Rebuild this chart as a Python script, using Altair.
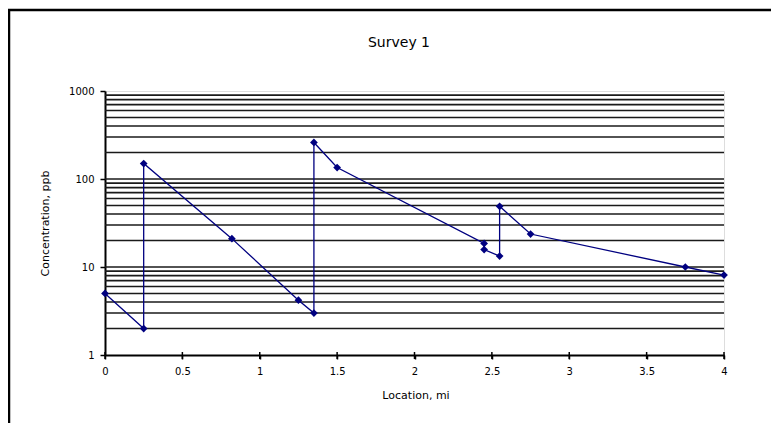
import altair as alt
import pandas as pd

# Survey data (location in miles, concentration in ppb), in drawing order
location_mi = [0, 0.25, 0.25, 0.82, 1.25, 1.35, 1.35, 1.5, 2.45, 2.45, 2.55, 2.55, 2.75, 3.75, 4.0]
concentration_ppb = [5, 2, 150, 21, 4.2, 3, 260, 135, 18.5, 15.8, 13.3, 49, 23.7, 10, 8.1]

x_ticks = [0, 0.5, 1, 1.5, 2, 2.5, 3, 3.5, 4]
y_ticks = [1, 10, 100, 1000]
grid_values = [2, 3, 4, 5, 6, 7, 8, 9,
               10, 20, 30, 40, 50, 60, 70, 80, 90,
               100, 200, 300, 400, 500, 600, 700, 800, 900]
title_text = ["Survey 1"]

df = pd.DataFrame({"order": list(range(len(location_mi))),
                   "Location": location_mi,
                   "Concentration": concentration_ppb})
grid_df = pd.DataFrame({"Concentration": grid_values})
xt_df = pd.DataFrame({"Location": x_ticks})
title_df = pd.DataFrame({"title": title_text})

W, H = 619, 264
NAVY = "#000080"
FONT = "DejaVu Sans"

xscale = alt.Scale(domain=[0, 4], nice=False, zero=False)
yscale = alt.Scale(type="log", domain=[1, 1000], nice=False)

x_axis = alt.Axis(values=x_ticks, title="Location, mi", grid=False, format="~g",
                  domainColor="black", domainWidth=2,
                  tickColor="black", tickWidth=1.5, tickSize=4,
                  labelPadding=7, labelFontSize=10, labelFont=FONT,
                  labelColor="black", labelFlush=False,
                  titleFontSize=11, titleFont=FONT, titleFontWeight="normal",
                  titleColor="black", titleX=W / 2 + 1, titleY=40,
                  titleBaseline="middle", titleAlign="center")
y_axis = alt.Axis(values=y_ticks, title="Concentration, ppb", grid=False,
                  format="d",
                  domainColor="black", domainWidth=2,
                  tickColor="black", tickWidth=1.5, tickSize=5,
                  labelPadding=6, labelFontSize=10, labelFont=FONT,
                  labelColor="black", labelFlush=False,
                  titleFontSize=11, titleFont=FONT, titleFontWeight="normal",
                  titleColor="black", titleX=-60, titleY=H / 2,
                  titleBaseline="middle", titleAlign="center", titleAngle=270)

grid = alt.Chart(grid_df).mark_rule(color="#1a1a1a", strokeWidth=1.7).encode(
    y=alt.Y("Concentration:Q", scale=yscale, axis=y_axis),
    x=alt.value(0), x2=alt.value(W))

cross_ticks = alt.Chart(xt_df).mark_rule(color="black", strokeWidth=1.5).encode(
    x=alt.X("Location:Q", scale=xscale, axis=x_axis),
    y=alt.value(H - 3), y2=alt.value(H + 4))

line = alt.Chart(df).mark_line(color=NAVY, strokeWidth=1.3).encode(
    x=alt.X("Location:Q", scale=xscale),
    y=alt.Y("Concentration:Q", scale=yscale),
    order="order:Q")

points = alt.Chart(df).mark_point(shape="diamond", filled=True, color=NAVY,
                                  size=60, opacity=1).encode(
    x=alt.X("Location:Q", scale=xscale),
    y=alt.Y("Concentration:Q", scale=yscale))

title = alt.Chart(title_df).mark_text(fontSize=14, font=FONT, color="black",
                                      baseline="middle", align="center").encode(
    text="title:N", x=alt.value(294), y=alt.value(-48))

# outer chart-area border (top and left edges visible in the reference)
border_top = alt.Chart(title_df).mark_rule(color="black", strokeWidth=2.5).encode(
    x=alt.value(-97), x2=alt.value(666), y=alt.value(-81))
border_left = alt.Chart(title_df).mark_rule(color="black", strokeWidth=2.5).encode(
    x=alt.value(-96), y=alt.value(-82), y2=alt.value(H + 80))

chart = alt.layer(grid, cross_ticks, line, points, title, border_top, border_left).properties(
    width=W, height=H,
    autosize=alt.AutoSizeParams(type="none"),
    padding={"left": 97, "top": 83, "right": 47, "bottom": 68},
).configure_view(stroke="#9a9a9a", strokeWidth=1.5).configure(background="white")

chart.save("out.html", embed_options={"renderer": "svg", "actions": False})
